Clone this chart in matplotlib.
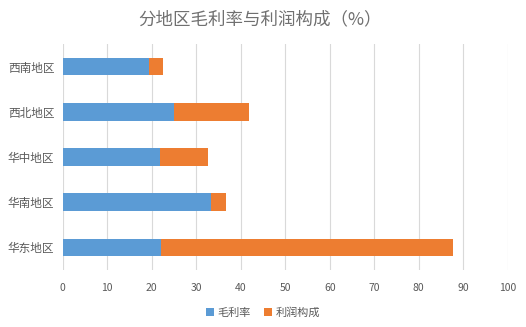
import matplotlib
matplotlib.use("Agg")
import matplotlib.pyplot as plt

plt.rcParams['font.family'] = ['Noto Sans CJK SC', 'DejaVu Sans']

# data (bottom to top)
regions = ['华东地区', '华南地区', '华中地区', '西北地区', '西南地区']
gross_margin = [22.2, 33.3, 21.9, 24.9, 19.5]
profit_share = [65.6, 3.3, 10.8, 17.0, 3.0]
series_names = ['毛利率', '利润构成']
x_ticks = [0, 10, 20, 30, 40, 50, 60, 70, 80, 90, 100]

blue = '#5B9BD5'
orange = '#ED7D31'
text_gray = '#595959'

fig = plt.figure(figsize=(5.26, 3.27), dpi=100)
ax = fig.add_axes([0.1192, 0.1743, 0.8461, 0.6911])

pos = range(len(regions))
ax.barh(pos, gross_margin, height=0.39, color=blue, label=series_names[0], zorder=3)
ax.barh(pos, profit_share, left=gross_margin, height=0.39, color=orange,
        label=series_names[1], zorder=3)

ax.set_xlim(0, 100)
ax.set_ylim(-0.5, len(regions) - 0.5)
ax.set_xticks(x_ticks)
ax.set_yticks(list(pos))
ax.set_yticklabels(regions, fontsize=8.4, color=text_gray)
ax.tick_params(axis='x', labelsize=7.5, colors=text_gray, length=0, pad=9)
ax.tick_params(axis='y', length=0, pad=6)
ax.grid(axis='x', color='#D9D9D9', linewidth=0.8, zorder=0)
for s in ax.spines.values():
    s.set_visible(False)

fig.text(0.495, 0.94, '分地区毛利率与利润构成（%）', ha='center', va='center',
         fontsize=12.6, color='#707070')

leg = fig.legend(loc='center', bbox_to_anchor=(0.5, 0.045), ncol=2, frameon=False,
                 fontsize=8, handlelength=0.7, handleheight=0.7, handletextpad=0.3,
                 columnspacing=1.2)
for t in leg.get_texts():
    t.set_color(text_gray)

fig.savefig('out.png', dpi=100)
